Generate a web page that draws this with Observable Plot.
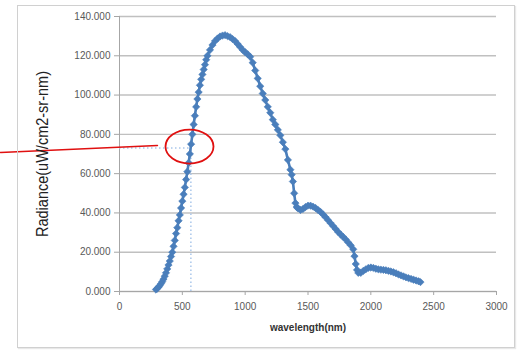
<!DOCTYPE html>
<html><head><meta charset="utf-8">
<script src="https://cdn.jsdelivr.net/npm/d3@7"></script>
<script src="https://cdn.jsdelivr.net/npm/@observablehq/plot@0.6"></script>
<style>
body{margin:0;background:#fff;}
#wrap{position:relative;width:520px;height:350px;}
#chart{position:absolute;left:0;top:0;}
#frame{position:absolute;left:17px;top:5px;width:498px;height:343px;border:1px solid #d0d0d0;box-sizing:border-box;pointer-events:none;box-shadow:1px 1px 1px #e8e8e8;}
</style></head><body><div id="wrap"><div id="chart"></div><div id="frame"></div></div>
<script>
const wavelength = [290,300,310,320,330,340,350,360,370,380,390,400,410,420,430,440,450,460,470,480,490,500,510,520,530,540,550,560,570,580,590,600,610,620,630,640,650,660,670,680,690,700,
720,740,760,780,800,820,840,860,880,900,920,940,960,980,1000,1020,1040,1060,1080,1100,1120,1140,1160,1180,1200,1220,1240,1260,1280,1300,1320,1340,1360,1370,1380,1390,1400,1410,1420,1440,1460,1480,1500,1520,1540,1560,1580,1600,1620,1640,1660,1680,1700,1720,1740,1760,1780,1800,1820,1840,1860,1870,1880,1890,1900,1920,1940,1960,1980,2000,2020,2040,2060,2080,2100,2120,2140,2160,2180,2200,2220,2240,2260,2280,2300,2320,2340,2360,2380,2395];
const radiance = [1.0,1.5,2.2,3.0,4.0,5.0,6.3,7.8,9.5,11.5,13.5,15.5,17.8,20.0,23.0,26.0,29.5,32.5,36.0,39.0,42.5,46.0,49.5,53.0,57.0,61.0,65.5,70.0,75.0,80.0,85.0,89.5,94.0,98.0,101.5,105.0,108.0,110.5,113.0,115.5,118.0,120.0,
123.0,125.5,127.5,128.8,129.8,130.3,130.5,130.0,129.5,128.5,127.5,126.0,124.5,123.0,121.8,120.8,119.5,116.5,112.5,108.5,104.5,100.8,97.5,94.0,91.0,87.5,85.0,82.3,79.5,76.0,72.5,67.0,62.0,59.5,56.0,50.0,45.0,43.0,42.3,41.5,42.0,43.0,43.7,43.7,43.2,42.5,41.5,40.5,39.2,37.8,36.3,34.8,33.3,31.8,30.3,29.0,27.8,26.5,25.0,23.5,21.5,18.0,14.0,11.0,9.5,9.5,10.5,11.3,12.0,12.2,12.0,11.6,11.3,11.1,11.0,10.8,10.5,10.2,9.8,9.3,8.7,8.2,7.7,7.2,6.8,6.4,6.0,5.6,5.2,4.8];
const xTicks = [0,500,1000,1500,2000,2500,3000];
const yTicks = [0,20,40,60,80,100,120,140];
const xLabel = "wavelength(nm)";
const yLabel = "Radiance(uW/cm2-sr-nm)";
// highlighted point and callout
const markX = 568, markY = 73;
const ellipseX = 557, ellipseY = 73.8;
const calloutX = [-947, 302], calloutY = [70.8, 74.3];

const data = wavelength.map((w, i) => ({w, r: radiance[i]}));
const ellipseSymbol = {
  draw(ctx) {
    const rx = 24, ry = 17, k = 0.5523;
    ctx.moveTo(rx, 0);
    ctx.bezierCurveTo(rx, ry * k, rx * k, ry, 0, ry);
    ctx.bezierCurveTo(-rx * k, ry, -rx, ry * k, -rx, 0);
    ctx.bezierCurveTo(-rx, -ry * k, -rx * k, -ry, 0, -ry);
    ctx.bezierCurveTo(rx * k, -ry, rx, -ry * k, rx, 0);
    ctx.closePath();
  }
};
const blue = "#4a7ebb";
const chart = Plot.plot({
  width: 520, height: 350,
  marginLeft: 119, marginRight: 24, marginTop: 16, marginBottom: 59,
  style: {background: "transparent", fontFamily: "'Liberation Sans', Arial, sans-serif"},
  x: {domain: [0, 3000]},
  y: {domain: [0, 140]},
  marks: [
    Plot.gridY(yTicks, {stroke: "#c0c0c0", strokeOpacity: 1, strokeWidth: 1.4}),
    Plot.ruleX([0], {stroke: "#a6a6a6", strokeWidth: 1}),
    Plot.ruleY([0], {stroke: "#a6a6a6", strokeWidth: 1.2}),
    Plot.axisY({ticks: yTicks, tickFormat: d3.format(".3f"), tickSize: 5, tickPadding: 4, fontSize: 10, color: "#595959", stroke: "#a6a6a6", label: null}),
    Plot.axisX({ticks: xTicks, tickFormat: d3.format("d"), tickSize: 4, tickPadding: 7, fontSize: 10, color: "#595959", stroke: "#a6a6a6", label: null}),
    Plot.ruleX([markX], {y1: 0, y2: markY, stroke: "#a9c6ea", strokeWidth: 1.5, strokeDasharray: "1.5,2.5"}),
    Plot.ruleY([markY], {x1: 0, x2: markX, stroke: "#a9c6ea", strokeWidth: 1.5, strokeDasharray: "1.5,2.5"}),
    Plot.line(data, {x: "w", y: "r", stroke: blue, strokeWidth: 2.6}),
    Plot.dot(data, {x: "w", y: "r", symbol: "diamond2", r: 3.3, fill: blue, stroke: blue, strokeWidth: 0.6}),
    Plot.line(calloutX.map((x, i) => ({x, y: calloutY[i]})), {x: "x", y: "y", stroke: "#e01010", strokeWidth: 1.5}),
    Plot.dot([{x: ellipseX, y: ellipseY}], {x: "x", y: "y", symbol: ellipseSymbol, r: 10, stroke: "#e01010", strokeWidth: 1.8, fill: "none"}),
    Plot.text([yLabel], {frameAnchor: "left", textAnchor: "middle", rotate: -90, dx: -77, fontSize: 17, fill: "#222", className: "ylab"}),
    Plot.text([xLabel], {frameAnchor: "bottom", dy: 39, fontSize: 10, fontWeight: "bold", fill: "#333"})
  ]
});
chart.querySelectorAll("text").forEach(t => {
  if (t.textContent === yLabel) {
    t.setAttribute("textLength", "166");
    t.setAttribute("lengthAdjust", "spacingAndGlyphs");
  }
});
document.getElementById("chart").appendChild(chart);
</script>
</body></html>
